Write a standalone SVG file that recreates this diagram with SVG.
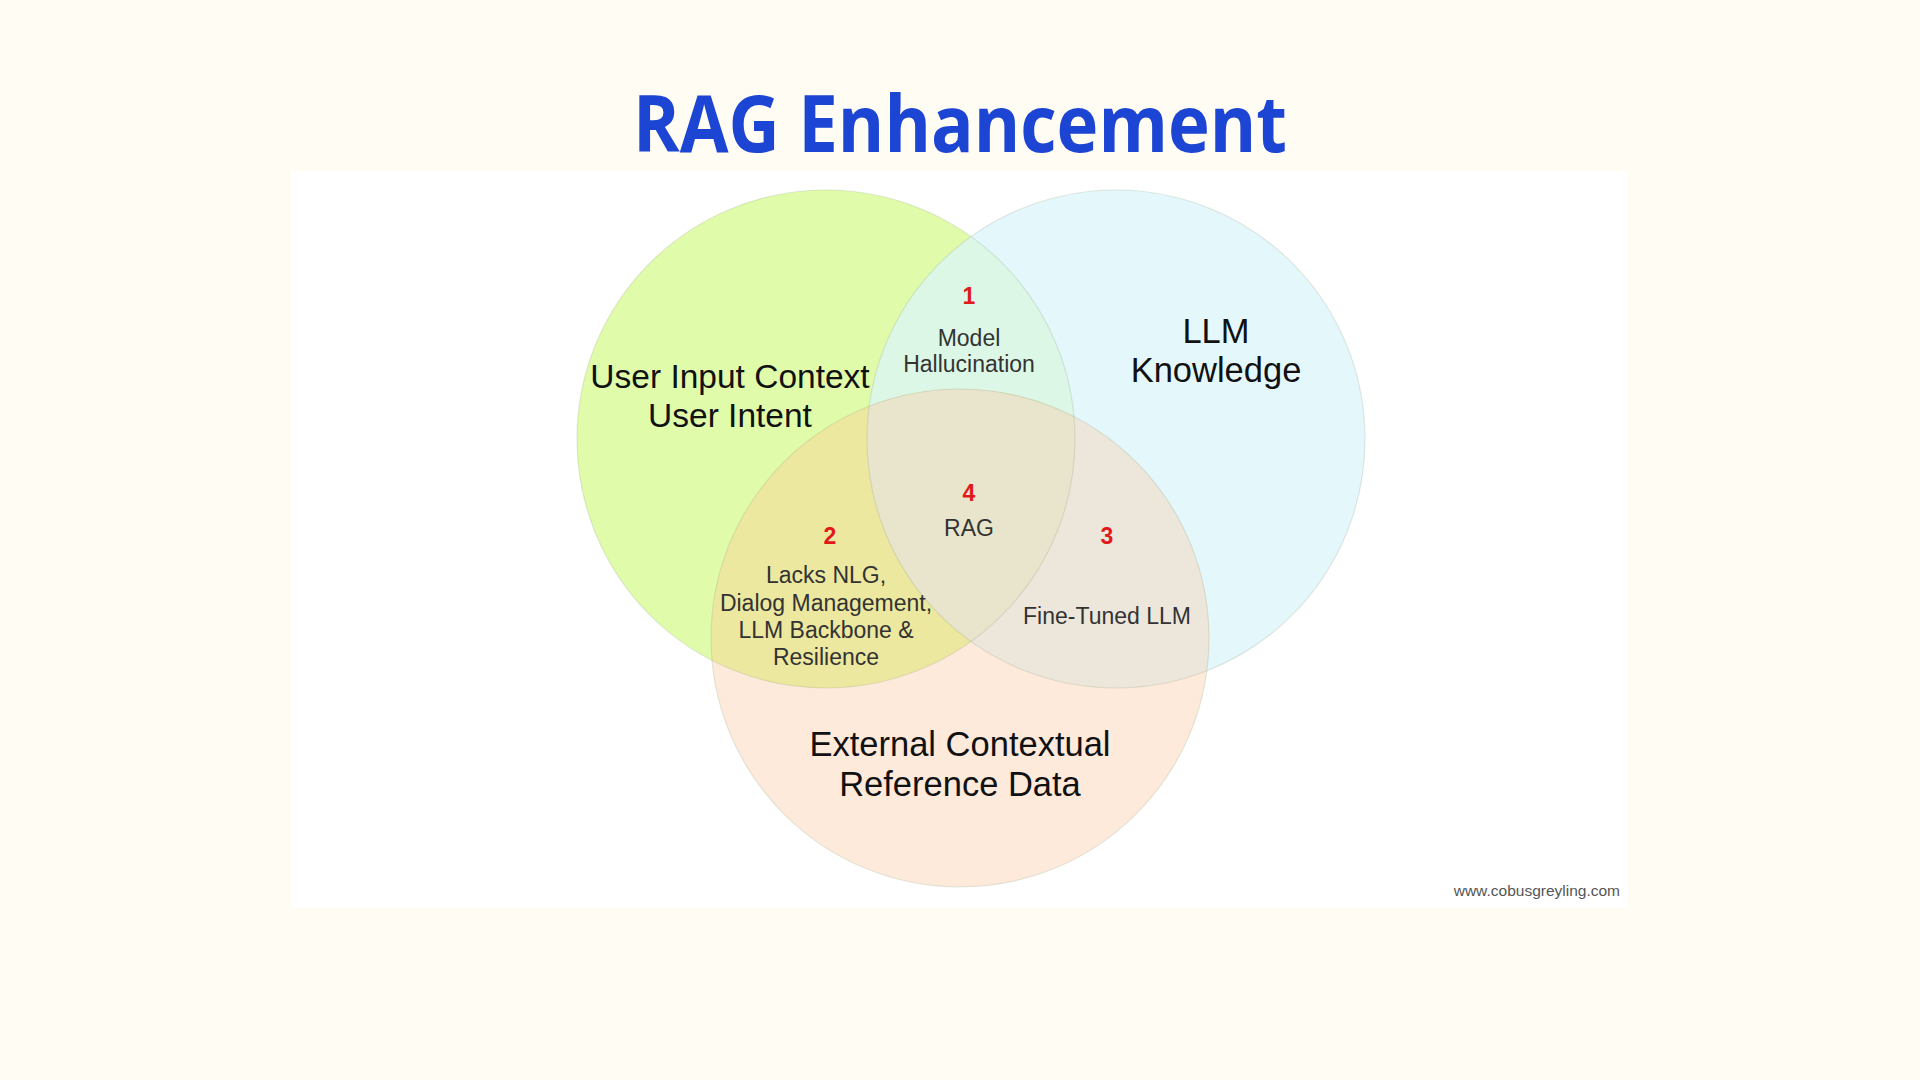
<svg xmlns="http://www.w3.org/2000/svg" width="1920" height="1080" viewBox="0 0 1920 1080">
  <style>
    .title { font-family: "Open Sans", "Liberation Sans", sans-serif; font-weight: 700; fill: #1d45d3; }
    .big { font-family: "Liberation Sans", Arial, sans-serif; font-size: 33.5px; fill: #111111; text-anchor: middle; }
    .big2 { font-size: 34.5px; }
    .small { font-family: "Liberation Sans", Arial, sans-serif; font-size: 23px; fill: #333333; text-anchor: middle; }
    .num { font-family: "Liberation Sans", Arial, sans-serif; font-size: 23px; font-weight: 700; fill: #e01a1a; text-anchor: middle; }
    .credit { font-family: "Liberation Sans", Arial, sans-serif; font-size: 15.5px; fill: #555555; text-anchor: end; }
    .outline { fill: none; stroke: #7f8f70; stroke-opacity: 0.2; stroke-width: 1.2; }
  </style>
  <defs>
    <clipPath id="clipGreen"><circle cx="826" cy="439" r="249"/></clipPath>
    <clipPath id="clipBlue"><circle cx="1116" cy="439" r="249"/></clipPath>
  </defs>

  <rect x="0" y="0" width="1920" height="1080" fill="#fffcf4"/>
  <text class="title" x="960" y="152" font-size="78" text-anchor="middle" textLength="654" lengthAdjust="spacingAndGlyphs">RAG Enhancement</text>
  <rect x="291" y="171" width="1337" height="737" fill="#ffffff"/>

  <g id="connectors"/>

  <g id="node-user">
    <circle cx="826" cy="439" r="249" fill="#e0fcaa"/>
  </g>
  <g id="node-llm">
    <circle cx="1116" cy="439" r="249" fill="#e4f8fc"/>
  </g>
  <g id="node-external">
    <circle cx="960" cy="638" r="249" fill="#feeadb"/>
  </g>
  <g id="overlaps">
    <circle cx="1116" cy="439" r="249" fill="#ddf7e6" clip-path="url(#clipGreen)"/>
    <circle cx="960" cy="638" r="249" fill="#ece89f" clip-path="url(#clipGreen)"/>
    <circle cx="960" cy="638" r="249" fill="#ede7db" clip-path="url(#clipBlue)"/>
    <g clip-path="url(#clipGreen)">
      <circle cx="960" cy="638" r="249" fill="#e8e5cc" clip-path="url(#clipBlue)"/>
    </g>
    <circle class="outline" cx="826" cy="439" r="249"/>
    <circle class="outline" cx="1116" cy="439" r="249"/>
    <circle class="outline" cx="960" cy="638" r="249"/>
  </g>

  <g id="label-user">
    <text class="big" x="730" y="388">User Input Context</text>
    <text class="big" x="730" y="427">User Intent</text>
  </g>
  <g id="label-llm">
    <text class="big big2" x="1216" y="343">LLM</text>
    <text class="big big2" x="1216" y="382">Knowledge</text>
  </g>
  <g id="label-external">
    <text class="big big2" x="960" y="756">External Contextual</text>
    <text class="big big2" x="960" y="796">Reference Data</text>
  </g>

  <g id="region-1">
    <text class="num" x="969" y="304">1</text>
    <text class="small" x="969" y="346">Model</text>
    <text class="small" x="969" y="372">Hallucination</text>
  </g>
  <g id="region-2">
    <text class="num" x="830" y="544">2</text>
    <text class="small" x="826" y="583">Lacks NLG,</text>
    <text class="small" x="826" y="611">Dialog Management,</text>
    <text class="small" x="826" y="638">LLM Backbone &amp;</text>
    <text class="small" x="826" y="665">Resilience</text>
  </g>
  <g id="region-3">
    <text class="num" x="1107" y="544">3</text>
    <text class="small" x="1107" y="624">Fine-Tuned LLM</text>
  </g>
  <g id="region-4">
    <text class="num" x="969" y="501">4</text>
    <text class="small" x="969" y="536">RAG</text>
  </g>

  <text class="credit" x="1620" y="896">www.cobusgreyling.com</text>
</svg>
